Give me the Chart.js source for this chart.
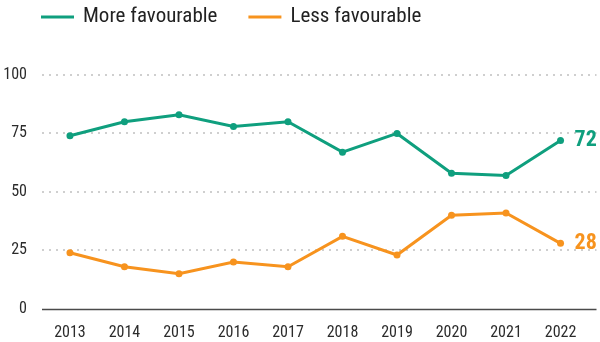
<!DOCTYPE html>
<html>
<head>
<meta charset="utf-8">
<script src="https://cdn.jsdelivr.net/npm/chart.js@4"></script>
<style>
  html, body { margin: 0; padding: 0; background: #fff; overflow: hidden; }
  /* the x axis reserves its tick padding twice, the spare strip falls below the frame */
  #wrap { width: 600px; height: 342px; overflow: hidden; }
</style>
</head>
<body>
<div id="wrap"><canvas id="grafico" width="600" height="358"></canvas></div>
<script>
const anos = [2013, 2014, 2015, 2016, 2017, 2018, 2019, 2020, 2021, 2022];
const maisFavoravel = [74, 80, 83, 78, 80, 67, 75, 58, 57, 72];
const menosFavoravel = [24, 18, 15, 20, 18, 31, 23, 40, 41, 28];
const ticksY = [0, 25, 50, 75, 100];

const VERDE = '#0f9f7e';
const LARANJA = '#f7931e';
const FONTE = "'Roboto Condensed', 'DejaVu Sans Condensed', sans-serif";

Chart.defaults.font.family = FONTE;
Chart.defaults.color = '#2b2b2b';

// legend drawn by hand: short line + label, left aligned over the plot
const legendaTopo = {
  id: 'legendaTopo',
  afterDraw(chart) {
    const ctx = chart.ctx;
    let x = 41;
    const y = 17;
    ctx.save();
    ctx.font = '21px ' + FONTE;
    ctx.textAlign = 'left';
    ctx.textBaseline = 'middle';
    chart.data.datasets.forEach(ds => {
      ctx.strokeStyle = ds.borderColor;
      ctx.lineWidth = 3;
      ctx.beginPath();
      ctx.moveTo(x, y);
      ctx.lineTo(x + 33, y);
      ctx.stroke();
      ctx.fillStyle = '#222';
      ctx.fillText(ds.label, x + 42, y);
      x += 42 + ctx.measureText(ds.label).width + 31;
    });
    ctx.restore();
  }
};

// solid dark baseline at y = 0
const linhaZero = {
  id: 'linhaZero',
  afterDraw(chart) {
    const { ctx, chartArea, scales } = chart;
    const y = Math.round(scales.y.getPixelForValue(0)) + 0.5;
    ctx.save();
    ctx.strokeStyle = '#4a4a4a';
    ctx.lineWidth = 1.5;
    ctx.beginPath();
    ctx.moveTo(chartArea.left, y);
    ctx.lineTo(chartArea.right, y);
    ctx.stroke();
    ctx.restore();
  }
};

// value written next to the last point of each line
const ultimoValor = {
  id: 'ultimoValor',
  afterDatasetsDraw(chart) {
    const ctx = chart.ctx;
    ctx.save();
    ctx.font = 'bold 22px ' + FONTE;
    ctx.textAlign = 'left';
    ctx.textBaseline = 'middle';
    chart.data.datasets.forEach((ds, i) => {
      const meta = chart.getDatasetMeta(i);
      const ponto = meta.data[meta.data.length - 1];
      ctx.fillStyle = ds.borderColor;
      ctx.fillText(String(ds.data[ds.data.length - 1].y), ponto.x + 14, ponto.y);
    });
    ctx.restore();
  }
};

const serie = (label, valores, cor) => ({
  label: label,
  data: anos.map((ano, i) => ({ x: ano, y: valores[i] })),
  borderColor: cor,
  backgroundColor: cor,
  borderWidth: 3,
  pointRadius: 3.5,
  pointBorderWidth: 0,
  pointHoverRadius: 3.5,
  tension: 0
});

const graficoCtx = document.getElementById('grafico').getContext('2d');
const grafico = new Chart(graficoCtx, {
  type: 'line',
  data: {
    datasets: [
      serie('More favourable', maisFavoravel, VERDE),
      serie('Less favourable', menosFavoravel, LARANJA)
    ]
  },
  plugins: [legendaTopo, linhaZero, ultimoValor],
  options: {
    responsive: false,
    animation: false,
    layout: { padding: { top: 75, left: 0, right: 3, bottom: 0 } },
    plugins: {
      legend: { display: false },
      tooltip: { enabled: false }
    },
    scales: {
      x: {
        type: 'linear',
        min: 2012.487,
        max: 2022.66,
        afterBuildTicks: scale => { scale.ticks = anos.map(v => ({ value: v })); },
        ticks: {
          padding: 15,
          font: { size: 16 },
          color: '#2b2b2b',
          callback: v => String(v)
        },
        grid: { display: false, drawTicks: false },
        border: { display: false }
      },
      y: {
        min: 0,
        max: 100,
        afterBuildTicks: scale => { scale.ticks = ticksY.map(v => ({ value: v })); },
        afterFit: scale => { scale.width = 42; },
        ticks: {
          padding: 15,
          font: { size: 16 },
          color: '#2b2b2b'
        },
        grid: {
          drawTicks: false,
          lineWidth: 2,
          color: c => (c.tick && c.tick.value === 0 ? 'rgba(0,0,0,0)' : '#cfcfcf')
        },
        border: { display: false, dash: [2, 5] }
      }
    }
  }
});
</script>
</body>
</html>
